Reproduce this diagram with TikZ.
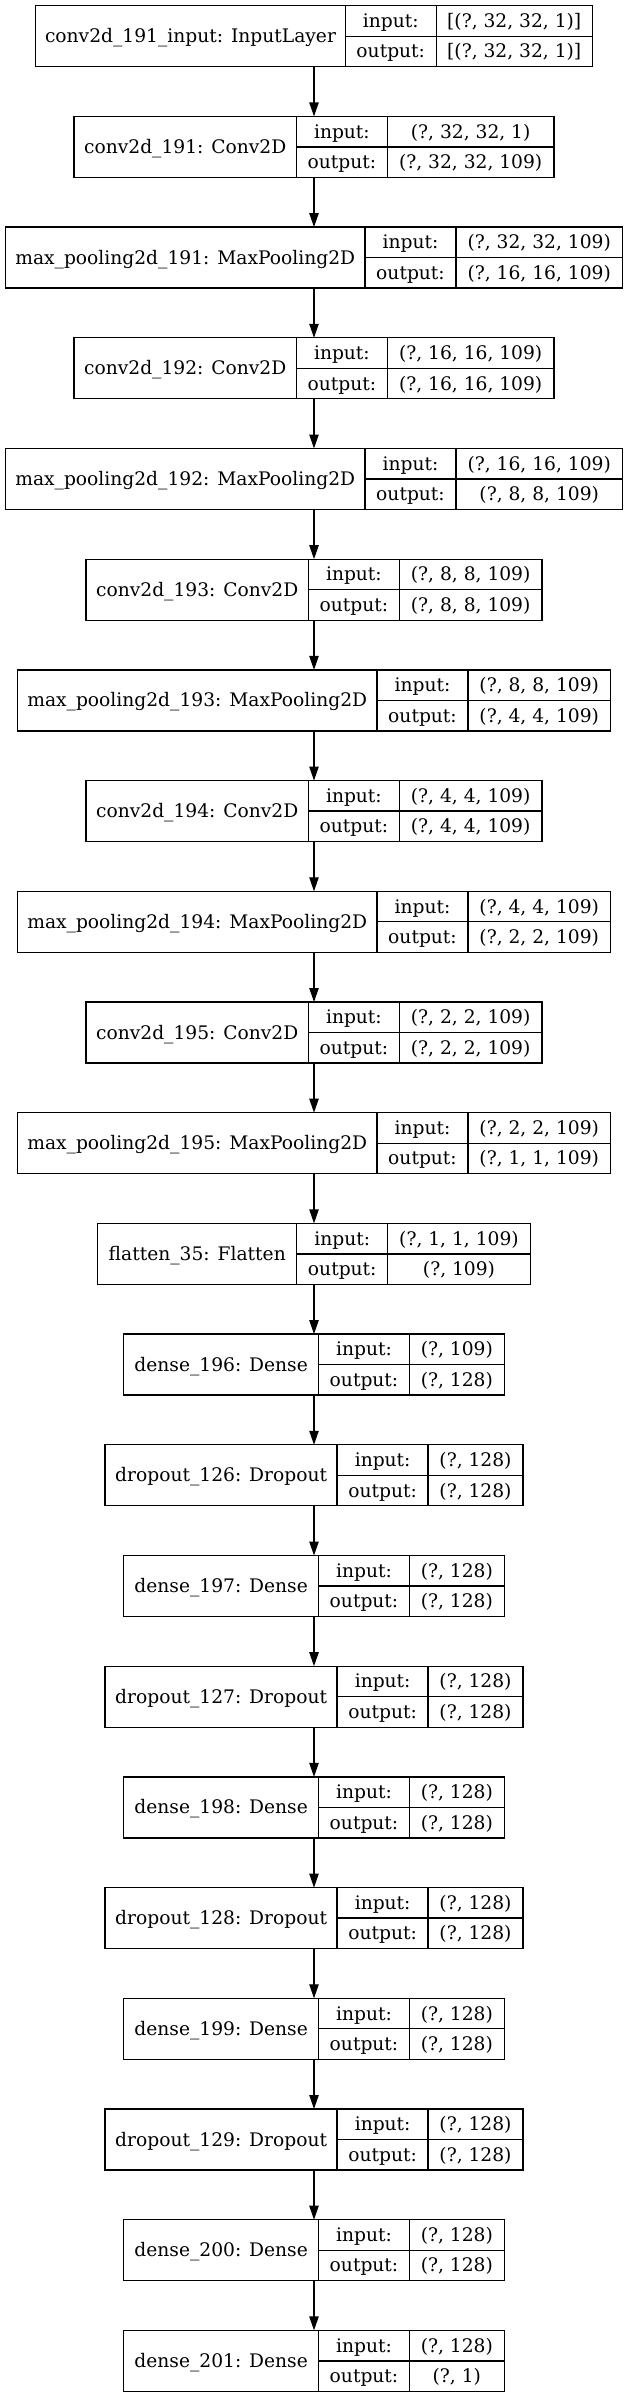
\documentclass[tikz,border=0pt]{standalone}
\usepackage{fontspec}
\setmainfont{DejaVu Serif}
\usetikzlibrary{arrows.meta}
\tikzset{
  layerbox/.style={draw=black, line width=1pt, minimum height=45.75pt, inner sep=0pt, outer sep=0pt},
  divider/.style={draw=black, line width=1pt},
  lbl/.style={inner sep=0pt, font=\fontsize{14}{16.8}\selectfont, anchor=base},
  flow/.style={draw=black, line width=1pt, -{Triangle[length=10.5pt,width=7pt]}},
}
% #1 id, #2 row, #3 name, #4 name width, #5 shape width, #6 input, #7 output
\newcommand\kerasbox[7]{%
  \pgfmathsetmacro\kbw{#4+91+#5}%
  \pgfmathsetmacro\kby{5.7+110.7*#2+30.5}%
  \pgfmathsetmacro\kbl{314-\kbw/2}%
  \pgfmathsetmacro\kbdi{\kbl+#4}%
  \pgfmathsetmacro\kbdii{\kbl+#4+91}%
  \node[layerbox, minimum width=\kbw*0.75pt] (#1) at (314,\kby) {};
  \draw[divider] (\kbdi,\kby-30.5) -- (\kbdi,\kby+30.5);
  \draw[divider] (\kbdii,\kby-30.5) -- (\kbdii,\kby+30.5);
  \draw[divider] (\kbdi,\kby) -- (\kbl+\kbw,\kby);
  \node[lbl] (#1-name) at (\kbl+#4/2,\kby+6.5) {#3};
  \node[lbl] (#1-inl) at (\kbdi+45.5,\kby-15.25+6.5) {input:};
  \node[lbl] (#1-outl) at (\kbdi+45.5,\kby+15.25+6.5) {output:};
  \node[lbl] (#1-in) at (\kbdii+#5/2,\kby-15.25+6.5) {#6};
  \node[lbl] (#1-out) at (\kbdii+#5/2,\kby+15.25+6.5) {#7};
}
\begin{document}
\begin{tikzpicture}[x=0.75pt,y=-0.75pt]
\useasboundingbox (0,0) rectangle (628,2397);
\kerasbox{b0}{0}{conv2d\_191\_input: InputLayer}{309.5}{156}{[(?, 32, 32, 1)]}{[(?, 32, 32, 1)]}
\kerasbox{b1}{1}{conv2d\_191: Conv2D}{222.3}{166.5}{(?, 32, 32, 1)}{(?, 32, 32, 109)}
\kerasbox{b2}{2}{max\_pooling2d\_191: MaxPooling2D}{359.5}{166.5}{(?, 32, 32, 109)}{(?, 16, 16, 109)}
\kerasbox{b3}{3}{conv2d\_192: Conv2D}{222.3}{166.5}{(?, 16, 16, 109)}{(?, 16, 16, 109)}
\kerasbox{b4}{4}{max\_pooling2d\_192: MaxPooling2D}{359.5}{166.5}{(?, 16, 16, 109)}{(?, 8, 8, 109)}
\kerasbox{b5}{5}{conv2d\_193: Conv2D}{222.3}{142.5}{(?, 8, 8, 109)}{(?, 8, 8, 109)}
\kerasbox{b6}{6}{max\_pooling2d\_193: MaxPooling2D}{359.5}{142.5}{(?, 8, 8, 109)}{(?, 4, 4, 109)}
\kerasbox{b7}{7}{conv2d\_194: Conv2D}{222.3}{142.5}{(?, 4, 4, 109)}{(?, 4, 4, 109)}
\kerasbox{b8}{8}{max\_pooling2d\_194: MaxPooling2D}{359.5}{142.5}{(?, 4, 4, 109)}{(?, 2, 2, 109)}
\kerasbox{b9}{9}{conv2d\_195: Conv2D}{222.3}{142.5}{(?, 2, 2, 109)}{(?, 2, 2, 109)}
\kerasbox{b10}{10}{max\_pooling2d\_195: MaxPooling2D}{359.5}{142.5}{(?, 2, 2, 109)}{(?, 1, 1, 109)}
\kerasbox{b11}{11}{flatten\_35: Flatten}{199}{142.5}{(?, 1, 1, 109)}{(?, 109)}
\kerasbox{b12}{12}{dense\_196: Dense}{194.7}{94.7}{(?, 109)}{(?, 128)}
\kerasbox{b13}{13}{dropout\_126: Dropout}{232}{94.7}{(?, 128)}{(?, 128)}
\kerasbox{b14}{14}{dense\_197: Dense}{194.7}{94.7}{(?, 128)}{(?, 128)}
\kerasbox{b15}{15}{dropout\_127: Dropout}{232}{94.7}{(?, 128)}{(?, 128)}
\kerasbox{b16}{16}{dense\_198: Dense}{194.7}{94.7}{(?, 128)}{(?, 128)}
\kerasbox{b17}{17}{dropout\_128: Dropout}{232}{94.7}{(?, 128)}{(?, 128)}
\kerasbox{b18}{18}{dense\_199: Dense}{194.7}{94.7}{(?, 128)}{(?, 128)}
\kerasbox{b19}{19}{dropout\_129: Dropout}{232}{94.7}{(?, 128)}{(?, 128)}
\kerasbox{b20}{20}{dense\_200: Dense}{194.7}{94.7}{(?, 128)}{(?, 128)}
\kerasbox{b21}{21}{dense\_201: Dense}{194.7}{94.7}{(?, 128)}{(?, 1)}
\foreach \i [evaluate=\i as \j using int(\i+1)] in {0,...,20}
  \draw[flow] (b\i.south) -- (b\j.north);
\end{tikzpicture}
\end{document}
